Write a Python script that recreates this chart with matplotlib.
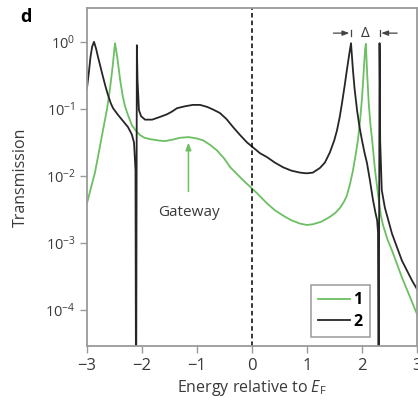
import numpy as np
import matplotlib
matplotlib.use("Agg")
import matplotlib.pyplot as plt

# ---- data (energy, log10 transmission) ----
E_1 = [-2.995, -2.93, -2.85, -2.78, -2.70, -2.63, -2.58, -2.53, -2.485,
       -2.45, -2.43, -2.39, -2.34, -2.30, -2.25, -2.18, -2.10, -2.03, -1.95,
       -1.85, -1.70, -1.58, -1.45, -1.30, -1.15, -1.00, -0.88, -0.75, -0.63,
       -0.50, -0.39, -0.27, -0.16, -0.03, 0.10, 0.28, 0.42, 0.57, 0.72, 0.88,
       1.00, 1.11, 1.27, 1.42, 1.52, 1.61, 1.68, 1.73, 1.79, 1.84, 1.89, 1.93,
       1.97, 2.006, 2.035, 2.06, 2.075, 2.10, 2.13, 2.16, 2.19, 2.24, 2.30,
       2.35, 2.39, 2.47, 2.55, 2.64, 2.73, 2.88, 3.0]
logT_1 = [-2.41, -2.20, -1.95, -1.65, -1.30, -1.00, -0.72, -0.38, -0.02,
          -0.20, -0.32, -0.58, -0.83, -0.97, -1.09, -1.24, -1.33, -1.39, -1.43,
          -1.45, -1.47, -1.48, -1.46, -1.43, -1.42, -1.44, -1.47, -1.54, -1.62,
          -1.74, -1.87, -1.97, -2.06, -2.16, -2.26, -2.41, -2.51, -2.59, -2.66, -2.71,
          -2.73, -2.72, -2.68, -2.61, -2.55, -2.47, -2.38, -2.29, -2.11, -1.92, -1.68, -1.47,
          -1.17, -0.83, -0.45, -0.12, -0.03, -0.50, -0.95, -1.25, -1.47, -1.90, -2.30,
          -2.60, -2.74, -2.95, -3.11, -3.31, -3.51, -3.81, -4.05]

E_2 = [-2.995, -2.96, -2.93, -2.90, -2.867, -2.83, -2.79, -2.75, -2.72, -2.66,
       -2.61, -2.56, -2.52, -2.43, -2.34, -2.25, -2.18, -2.14, -2.113, -2.102,
       -2.088, -2.076, -2.05, -2.01, -1.94, -1.81, -1.67, -1.54, -1.45, -1.36,
       -1.21, -1.07, -0.94, -0.81, -0.70, -0.58, -0.46, -0.34, -0.20, -0.085,
       0.15, 0.28, 0.42, 0.57, 0.72, 0.88, 1.00, 1.11, 1.24, 1.33, 1.42, 1.50,
       1.55, 1.60, 1.64, 1.69, 1.73, 1.77, 1.805, 1.84, 1.87, 1.915, 1.96,
       2.005, 2.05, 2.096, 2.15, 2.205, 2.25, 2.28, 2.296, 2.307, 2.324, 2.33,
       2.335, 2.364, 2.42, 2.55, 2.73, 2.915, 3.0]
logT_2 = [-0.69, -0.45, -0.22, -0.07, 0.0, -0.10, -0.24, -0.37, -0.47, -0.66,
          -0.80, -0.92, -0.99, -1.09, -1.18, -1.27, -1.38, -1.50, -1.91, -6.0,
          -0.05, -0.57, -1.02, -1.11, -1.16, -1.16, -1.12, -1.08, -1.04, -0.99,
          -0.96, -0.94, -0.94, -0.97, -1.01, -1.06, -1.15, -1.27, -1.40, -1.50,
          -1.66, -1.72, -1.80, -1.87, -1.92, -1.95, -1.96, -1.95, -1.88, -1.80, -1.65, -1.47,
          -1.32, -1.12, -0.92, -0.65, -0.42, -0.20, -0.02, -0.42, -0.70, -1.02, -1.27,
          -1.47, -1.65, -1.81, -2.07, -2.36, -2.55, -2.66, -2.84, -6.0, -0.02, -0.57,
          -1.47, -2.21, -2.47, -2.86, -3.26, -3.56, -3.68]

labels = ["1", "2"]
xticks = [-3, -2, -1, 0, 1, 2, 3]

green = "#6cbf62"
dark = "#262626"
grey = "#9a9a9a"

plt.rcParams["font.family"] = ["Open Sans", "DejaVu Sans"]
plt.rcParams["mathtext.fontset"] = "custom"
plt.rcParams["mathtext.rm"] = "Open Sans"
plt.rcParams["mathtext.it"] = "Open Sans:italic"

fig = plt.figure(figsize=(4.18, 4.07), dpi=100)
ax = fig.add_axes([0.2074, 0.1506, 0.7896, 0.829])

T1 = 10 ** np.array(logT_1)
T2 = 10 ** np.array(logT_2)
ax.plot(E_1, T1, color=green, lw=1.3, label=labels[0])
ax.plot(E_2, T2, color=dark, lw=1.3, label=labels[1])
ax.axvline(0, color="black", lw=1.1, ls=(0, (3, 2)))

ax.set_yscale("log")
ax.set_xlim(-3, 3)
ax.set_ylim(10 ** -4.53, 10 ** 0.5)
ax.set_xticks(xticks)
ax.set_xticklabels(["\u2212" + str(-t) if t < 0 else str(t) for t in xticks])
ax.set_yticks([1e-4, 1e-3, 1e-2, 1e-1, 1])
ax.minorticks_off()
ax.tick_params(axis="y", which="major", length=5, width=1, color=grey,
               labelsize=10.5, labelcolor="#3a3a3a", pad=3)
ax.tick_params(axis="x", which="major", length=5, width=1, color=grey,
               labelsize=12, labelcolor="#3a3a3a", pad=4)
ax.yaxis.set_minor_locator(matplotlib.ticker.NullLocator())
for s in ax.spines.values():
    s.set_color(grey)
    s.set_linewidth(1.3)

ax.set_xlabel("Energy relative to $E_{\\mathrm{F}}$", fontsize=11.5, color="#3a3a3a", labelpad=3)
ax.set_ylabel("Transmission", fontsize=11.5, color="#3a3a3a", labelpad=12)

fig.text(0.048, 0.958, "d", fontsize=13, fontweight="bold", va="center", ha="left")

# gateway arrow
ax.annotate("Gateway", xy=(-1.15, 10 ** -1.5), xytext=(-1.15, 10 ** -2.55),
            ha="center", va="center", fontsize=11, color="#3a3a3a",
            arrowprops=dict(arrowstyle="-|>,head_length=0.4,head_width=0.15",
                            color=green, lw=1.1, shrinkA=8, shrinkB=0))

# delta marker between peak of curve 2 near 1.8 and its spike near 2.3
i_mid = E_2.index(2.005)
p_left = E_2[int(np.argmax(T2[40:i_mid])) + 40]
p_right = E_2[int(np.argmax(T2[i_mid:])) + i_mid]
y_d = 10 ** 0.13
ax.text((p_left + p_right) / 2 - 0.01, y_d, "\u0394", ha="center", va="center",
        fontsize=11, color="#3a3a3a")
ax.annotate("", xy=(p_left - 0.03, y_d), xytext=(p_left - 0.32, y_d),
            arrowprops=dict(arrowstyle="-|>,head_length=0.4,head_width=0.15",
                            color="#444444", lw=0.9, shrinkA=0, shrinkB=0))
ax.annotate("", xy=(p_right + 0.03, y_d), xytext=(p_right + 0.32, y_d),
            arrowprops=dict(arrowstyle="-|>,head_length=0.4,head_width=0.15",
                            color="#444444", lw=0.9, shrinkA=0, shrinkB=0))
ax.plot([p_left, p_left], [10 ** 0.08, 10 ** 0.18], color="#444444", lw=0.9)
ax.plot([p_right, p_right], [10 ** 0.08, 10 ** 0.18], color="#444444", lw=0.9)

leg = ax.legend(loc="lower right", bbox_to_anchor=(0.858, 0.026), borderaxespad=0,
                fancybox=False, edgecolor=grey, framealpha=1, handlelength=2.0,
                handletextpad=0.2, borderpad=0.45, labelspacing=0.35,
                prop={"weight": "bold", "size": 11.5})
leg.get_frame().set_linewidth(1.1)

fig.savefig("out.png", dpi=100)
